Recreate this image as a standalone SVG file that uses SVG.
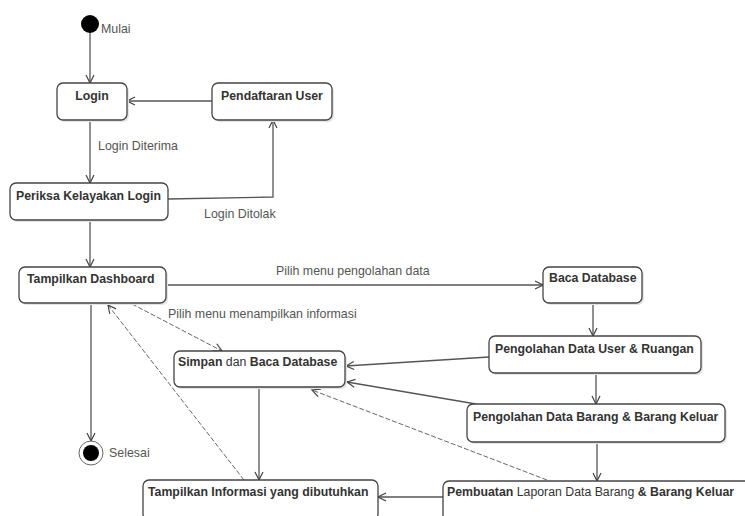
<svg xmlns="http://www.w3.org/2000/svg" width="745" height="516" viewBox="0 0 745 516">
<defs>
<marker id="arr" markerWidth="10" markerHeight="10" refX="9" refY="5" orient="auto" markerUnits="userSpaceOnUse">
<path d="M1,1 L9,5 L1,9" fill="none" stroke="#444" stroke-width="1.2"/>
</marker>
</defs>
<style>
.box{fill:#fff;stroke:#444;stroke-width:1.3}
.sh{fill:#e4e4e4;stroke:none}
.nt{font-family:"Liberation Sans",Arial,sans-serif;font-size:12.3px;font-weight:bold;fill:#333}
.lt{font-family:"Liberation Sans",Arial,sans-serif;font-size:12.4px;fill:#555}
.c{fill:none;stroke:#555;stroke-width:1.3}
.d{fill:none;stroke:#666;stroke-width:1;stroke-dasharray:5 2}
</style>
<rect width="745" height="516" fill="#fff"/>

<g id="connectors">
<line class="c" x1="90" y1="33" x2="90" y2="83" marker-end="url(#arr)"/>
<line class="c" x1="212" y1="101" x2="127" y2="101" marker-end="url(#arr)"/>
<line class="c" x1="90" y1="120" x2="90" y2="183" marker-end="url(#arr)"/>
<polyline class="c" points="168,199 273,197 273,120" marker-end="url(#arr)"/>
<line class="c" x1="90" y1="220" x2="90" y2="267" marker-end="url(#arr)"/>
<line class="c" x1="166" y1="285" x2="543" y2="285" marker-end="url(#arr)"/>
<line class="d" x1="132" y1="304" x2="222" y2="351" marker-end="url(#arr)"/>
<line class="c" x1="91" y1="303" x2="91" y2="441" marker-end="url(#arr)"/>
<line class="c" x1="593" y1="303" x2="593" y2="336" marker-end="url(#arr)"/>
<line class="c" x1="596" y1="373" x2="596" y2="404" marker-end="url(#arr)"/>
<line class="c" x1="597" y1="442" x2="597" y2="481" marker-end="url(#arr)"/>
<line class="c" x1="489" y1="357" x2="346" y2="366" marker-end="url(#arr)"/>
<line class="c" x1="476" y1="404" x2="347" y2="382" marker-end="url(#arr)"/>
<line class="d" x1="547" y1="480" x2="312" y2="390" marker-end="url(#arr)"/>
<line class="c" x1="259" y1="387" x2="259" y2="480" marker-end="url(#arr)"/>
<line class="d" x1="244" y1="480" x2="108" y2="305" marker-end="url(#arr)"/>
<line class="c" x1="443" y1="497" x2="378" y2="497" marker-end="url(#arr)"/>
<text class="lt" x="98" y="150">Login Diterima</text>
<text class="lt" x="204" y="218">Login Ditolak</text>
<text class="lt" x="276" y="275">Pilih menu pengolahan data</text>
<text class="lt" x="168" y="318">Pilih menu menampilkan informasi</text>
</g>

<g id="start">
<circle cx="90" cy="24" r="9" fill="#000"/>
<text class="lt" x="101" y="33">Mulai</text>
</g>

<g id="login">
<rect class="sh" x="59" y="85" width="70" height="37" rx="6"/>
<rect class="box" x="57" y="83" width="70" height="37" rx="6"/>
<text class="nt" x="92" y="100" text-anchor="middle">Login</text>
</g>

<g id="pendaftaran">
<rect class="sh" x="214" y="85" width="120" height="37" rx="6"/>
<rect class="box" x="212" y="83" width="120" height="37" rx="6"/>
<text class="nt" x="272" y="100" text-anchor="middle">Pendaftaran User</text>
</g>

<g id="periksa">
<rect class="sh" x="12" y="185" width="156" height="37" rx="6"/>
<rect class="box" x="10" y="183" width="158" height="37" rx="6"/>
<text class="nt" x="16" y="200">Periksa Kelayakan Login</text>
</g>

<g id="dashboard">
<rect class="sh" x="21" y="269" width="147" height="36" rx="6"/>
<rect class="box" x="19" y="267" width="147" height="36" rx="6"/>
<text class="nt" x="27" y="283">Tampilkan Dashboard</text>
</g>

<g id="baca">
<rect class="sh" x="545" y="269" width="99" height="36" rx="6"/>
<rect class="box" x="543" y="267" width="99" height="36" rx="6"/>
<text class="nt" x="549" y="282">Baca Database</text>
</g>

<g id="user-ruangan">
<rect class="sh" x="491" y="338" width="212" height="37" rx="6"/>
<rect class="box" x="489" y="336" width="212" height="37" rx="6"/>
<text class="nt" x="495" y="353">Pengolahan Data User &amp; Ruangan</text>
</g>

<g id="simpan">
<rect class="sh" x="176" y="353" width="171" height="36" rx="6"/>
<rect class="box" x="174" y="351" width="171" height="36" rx="6"/>
<text class="nt" x="178" y="366">Simpan <tspan font-weight="normal">dan</tspan> Baca Database</text>
</g>

<g id="barang">
<rect class="sh" x="469" y="406" width="258" height="38" rx="6"/>
<rect class="box" x="467" y="404" width="258" height="38" rx="6"/>
<text class="nt" x="473" y="421">Pengolahan Data Barang &amp; Barang Keluar</text>
</g>

<g id="selesai">
<circle cx="91" cy="453" r="12" fill="#fff" stroke="#666" stroke-width="1"/>
<circle cx="91" cy="453" r="8" fill="#000"/>
<text class="lt" x="109" y="457">Selesai</text>
</g>

<g id="informasi">
<rect class="box" x="143" y="480" width="235" height="40" rx="6"/>
<text class="nt" x="148" y="496">Tampilkan Informasi yang dibutuhkan</text>
</g>

<g id="laporan">
<rect class="box" x="443" y="481" width="310" height="40" rx="6"/>
<text class="nt" x="447" y="496">Pembuatan <tspan font-weight="normal">Laporan Data Barang</tspan> &amp; Barang Keluar</text>
</g>
</svg>
